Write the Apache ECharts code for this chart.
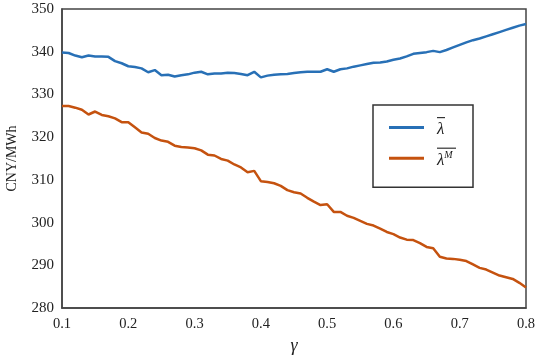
<!DOCTYPE html>
<html>
<head>
<meta charset="utf-8">
<script src="https://cdn.jsdelivr.net/npm/echarts@6/dist/echarts.min.js"></script>
<style>
  html, body { margin: 0; padding: 0; background: #fff; }
  #chart { width: 536px; height: 356px; }
</style>
</head>
<body>
<div id="chart"></div>
<script>
  // gamma 0.10 ... 0.80, step 0.01
  var gammaStart = 0.1;
  var gammaStep = 0.01;

  var lambdaMean = [
    339.8, 339.7, 339.1, 338.7, 339.1, 338.9, 338.9, 338.8, 337.8, 337.3,
    336.6, 336.4, 336.1, 335.2, 335.7, 334.5, 334.6, 334.2, 334.5, 334.7,
    335.1, 335.3, 334.7, 334.9, 334.9, 335.1, 335.0, 334.8, 334.5, 335.3,
    334.0, 334.4, 334.6, 334.7, 334.8, 335.0, 335.2, 335.3, 335.3, 335.3,
    335.9, 335.3, 335.9, 336.1, 336.5, 336.8, 337.1, 337.4, 337.5, 337.7,
    338.1, 338.4, 338.9, 339.5, 339.7, 339.9, 340.2, 339.9, 340.4, 341.0,
    341.6, 342.2, 342.7, 343.1, 343.6, 344.1, 344.6, 345.1, 345.6, 346.1,
    346.5
  ];

  var lambdaM = [
    327.3, 327.3, 326.9, 326.4, 325.3, 326.0, 325.2, 324.9, 324.4, 323.5,
    323.5, 322.3, 321.1, 320.8, 319.8, 319.2, 318.9, 318.0, 317.7, 317.6,
    317.4, 316.9, 315.9, 315.7, 314.9, 314.5, 313.6, 312.9, 311.8, 312.1,
    309.7, 309.5, 309.2, 308.6, 307.6, 307.1, 306.8, 305.8, 304.9, 304.1,
    304.3, 302.5, 302.5, 301.6, 301.1, 300.4, 299.7, 299.3, 298.6, 297.8,
    297.3, 296.5, 296.0, 295.9, 295.2, 294.3, 294.0, 292.0, 291.6, 291.5,
    291.3, 291.0, 290.2, 289.4, 289.0, 288.3, 287.6, 287.2, 286.8, 285.9,
    284.8
  ];

  var seriesNames = ['λ', 'λM'];

  function pairs(vals) {
    var out = [];
    for (var i = 0; i < vals.length; i++) {
      out.push([+(gammaStart + i * gammaStep).toFixed(2), vals[i]]);
    }
    return out;
  }

  var chart = echarts.init(document.getElementById('chart'));
  var serif = '"Liberation Serif", "DejaVu Serif", serif';

  var option = {
    animation: false,
    grid: {
      left: 62,
      right: 10,
      top: 9,
      bottom: 48,
      outerBoundsMode: 'none',
      show: true,
      borderColor: '#444',
      borderWidth: 1.5
    },
    // 图例 (上划线用一个细色块画在文字上方)
    legend: {
      orient: 'vertical',
      left: 373,
      top: 105,
      padding: [12, 17, 17, 16],
      borderColor: '#333',
      borderWidth: 1.5,
      itemWidth: 35,
      itemHeight: 3,
      itemGap: 8,
      icon: 'rect',
      data: seriesNames,
      formatter: function (name) {
        if (name === 'λM') return '{ow| }\n{l|λ}{s|M}';
        return '{o| }\n{l|λ}';
      },
      textStyle: {
        rich: {
          o: { width: 8, height: 1.2, lineHeight: 4, backgroundColor: '#333', fontSize: 1, align: 'left' },
          ow: { width: 19, height: 1.2, lineHeight: 4, backgroundColor: '#333', fontSize: 1, align: 'left' },
          l: { fontFamily: serif, fontStyle: 'italic', fontSize: 17, color: '#222', height: 20, lineHeight: 20 },
          s: { fontFamily: serif, fontStyle: 'italic', fontSize: 10, color: '#222', verticalAlign: 'top', padding: [0, 0, 8, 0] }
        },
        padding: [0, 0, 0, 8]
      }
    },
    xAxis: {
      type: 'value',
      min: 0.1,
      max: 0.8,
      interval: 0.1,
      name: 'γ',
      nameLocation: 'middle',
      nameGap: 27,
      nameTextStyle: { fontFamily: serif, fontStyle: 'italic', fontSize: 18, color: '#222' },
      axisLine: { show: true, lineStyle: { color: '#444', width: 1.5 } },
      axisTick: { show: false },
      splitLine: { show: false },
      axisLabel: {
        margin: 9,
        fontFamily: serif,
        fontSize: 14.5,
        color: '#222',
        formatter: function (v) { return v.toFixed(1); }
      }
    },
    yAxis: {
      type: 'value',
      min: 280,
      max: 350,
      interval: 10,
      name: 'CNY/MWh',
      nameLocation: 'middle',
      nameGap: 43,
      nameTextStyle: { fontFamily: serif, fontSize: 14, color: '#222' },
      axisLine: { show: true, lineStyle: { color: '#444', width: 1.5 } },
      axisTick: { show: false },
      splitLine: { show: false },
      axisLabel: { margin: 8, fontFamily: serif, fontSize: 15, color: '#222' }
    },
    series: [{
        name: seriesNames[0],
        type: 'line',
        symbol: 'none',
        data: pairs(lambdaMean),
        lineStyle: { color: '#2870B6', width: 2.5 },
        itemStyle: { color: '#2870B6' }
      },
      {
        name: seriesNames[1],
        type: 'line',
        symbol: 'none',
        data: pairs(lambdaM),
        lineStyle: { color: '#C5520F', width: 2.5 },
        itemStyle: { color: '#C5520F' }
      }
    ]
  };

  chart.setOption(option);
</script>
</body>
</html>
